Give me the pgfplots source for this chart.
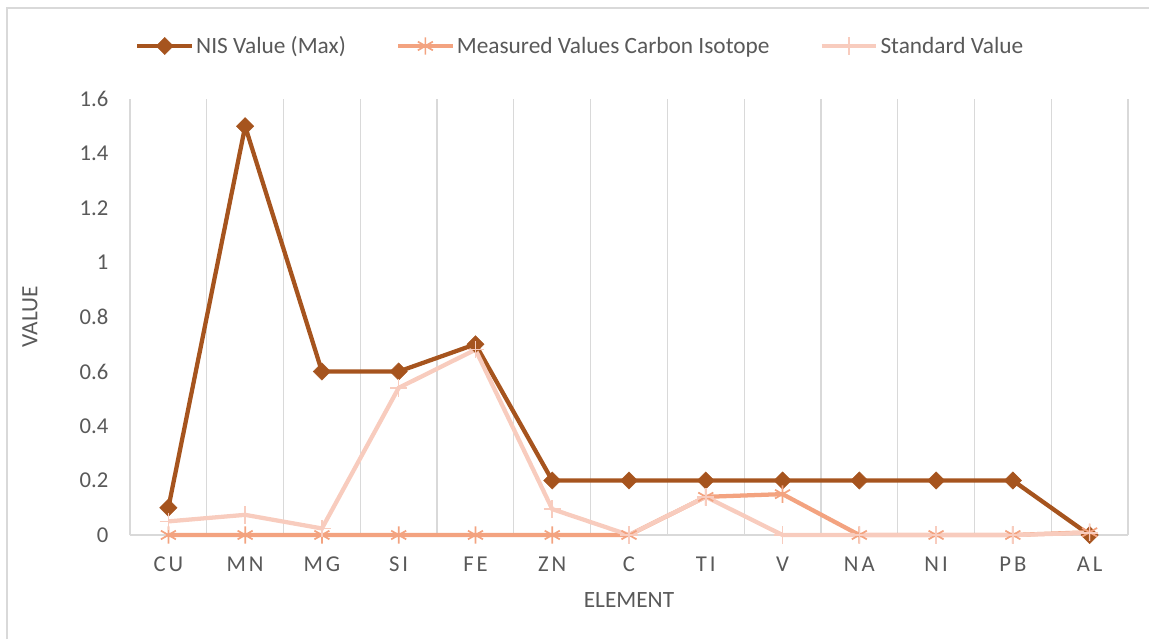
\documentclass[border=0pt]{standalone}
\usepackage{fontspec}
\setmainfont{Carlito}
\usepackage{pgfplots}
\pgfplotsset{compat=1.18}
\definecolor{nis}{RGB}{166,84,30}
\definecolor{meas}{RGB}{243,163,128}
\definecolor{stdv}{RGB}{248,204,190}
\definecolor{txt}{RGB}{89,89,89}
\definecolor{grd}{RGB}{217,217,217}
\newcommand{\ls}[2]{#1\hspace{2.2pt}#2}
\begin{document}
\begin{tikzpicture}
\useasboundingbox (0,0) rectangle (861.75pt,479.25pt);
\draw[grd, line width=1.2pt] (5.25pt,0pt) -- (5.25pt,473.25pt) -- (870pt,473.25pt);
\begin{axis}[
  at={(97.5pt,78pt)}, anchor=south west,
  scale only axis, width=748.5pt, height=327pt,
  clip=false,
  xmin=-0.5, xmax=12.5, ymin=0, ymax=1.6,
  xtick={0,...,12},
  xticklabels={\ls CU,\ls MN,\ls MG,\ls SI,\ls FE,\ls ZN,C,\ls TI,V,\ls NA,\ls NI,\ls PB,\ls AL},
  minor xtick={-0.5,0.5,...,12.5},
  xminorgrids, minor grid style={grd, line width=0.9pt},
  ytick={0,0.2,...,1.6},
  yticklabels={0,0.2,0.4,0.6,0.8,1,1.2,1.4,1.6},
  major tick length=0pt, minor tick length=0pt,
  axis x line*=bottom, axis y line*=left,
  x axis line style={grd, line width=1pt, -},
  y axis line style={draw=none},
  /pgf/number format/assume math mode=true,
  tick label style={font=\fontsize{17}{20}\selectfont, text=txt, inner sep=0pt},
  yticklabel style={xshift=-16pt, anchor=east},
  xticklabel style={yshift=-16.5pt, anchor=north},
  xlabel={ELEMENT}, ylabel={VALUE},
  label style={font=\fontsize{17.5}{20}\selectfont, text=txt, inner sep=0pt},
  xlabel style={at={(axis description cs:0.5,0)}, anchor=north, yshift=-43pt},
  ylabel style={at={(axis description cs:0,0.5)}, anchor=center, yshift=75pt},
  legend columns=3,
  legend style={at={(axis description cs:0.005,1.1216)}, anchor=west, draw=none, fill=none,
    inner sep=0pt, font=\fontsize{17.5}{20}\selectfont, text=txt,
    nodes={inner sep=1.5pt},
    /tikz/every even column/.append style={column sep=36pt}},
  legend cell align=left,
  legend image code/.code={\draw[mark repeat=2,mark phase=2] plot coordinates {(0pt,0pt)(20.5pt,0pt)(41pt,0pt)};},
]
\addplot[nis, line width=3.2pt, mark=square*, mark size=4.6pt, mark options={solid, fill=nis, line width=0.3pt, rotate=45}]
 coordinates {(0,0.1)(1,1.5)(2,0.6)(3,0.6)(4,0.7)(5,0.2)(6,0.2)(7,0.2)(8,0.2)(9,0.2)(10,0.2)(11,0.2)(12,0)};
\addlegendentry{NIS Value (Max)}
\addplot[meas, line width=3.2pt, mark=asterisk, mark size=6.5pt, mark options={solid, line width=1.3pt}]
 coordinates {(0,0)(1,0)(2,0)(3,0)(4,0)(5,0)(6,0)(7,0.14)(8,0.15)(9,0)(10,0)(11,0)(12,0.01)};
\addlegendentry{Measured Values Carbon Isotope}
\addplot[stdv, line width=3.2pt, mark=+, mark size=6.5pt, mark options={solid, line width=1.2pt}]
 coordinates {(0,0.05)(1,0.074)(2,0.024)(3,0.54)(4,0.68)(5,0.095)(6,0)(7,0.14)(8,0)(9,0)(10,0)(11,0)(12,0.008)};
\addlegendentry{Standard Value}
\end{axis}
\end{tikzpicture}
\end{document}
